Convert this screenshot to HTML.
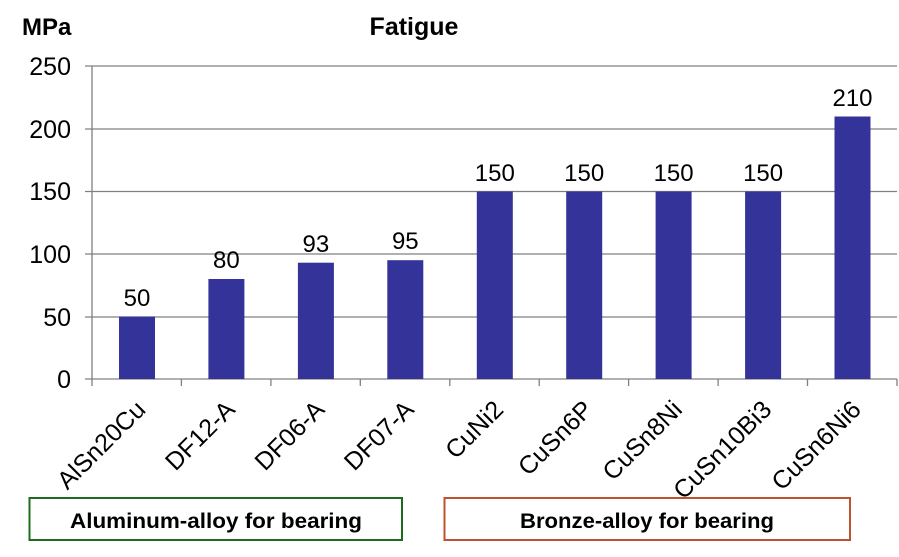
<!DOCTYPE html>
<html><head><meta charset="utf-8"><style>
html,body{margin:0;padding:0;background:#fff;}
svg{display:block;}
</style></head><body>
<svg width="899" height="557" xmlns="http://www.w3.org/2000/svg" font-family="Liberation Sans, Arial, sans-serif">
<rect width="899" height="557" fill="#fff"/>
<text x="22" y="35" font-size="24" font-weight="bold">MPa</text>
<text x="414" y="35" font-size="25" font-weight="bold" text-anchor="middle">Fatigue</text>
<g stroke="#808080" stroke-width="1.3">
<line x1="85" y1="66" x2="897" y2="66"/>
<line x1="85" y1="129" x2="897" y2="129"/>
<line x1="85" y1="191.5" x2="897" y2="191.5"/>
<line x1="85" y1="254" x2="897" y2="254"/>
<line x1="85" y1="317" x2="897" y2="317"/>
<line x1="85" y1="379" x2="897" y2="379"/>
<line x1="92" y1="66" x2="92" y2="386"/>
<line x1="181.4" y1="379" x2="181.4" y2="386"/>
<line x1="270.9" y1="379" x2="270.9" y2="386"/>
<line x1="360.3" y1="379" x2="360.3" y2="386"/>
<line x1="449.8" y1="379" x2="449.8" y2="386"/>
<line x1="539.2" y1="379" x2="539.2" y2="386"/>
<line x1="628.6" y1="379" x2="628.6" y2="386"/>
<line x1="718.1" y1="379" x2="718.1" y2="386"/>
<line x1="807.5" y1="379" x2="807.5" y2="386"/>
<line x1="897" y1="379" x2="897" y2="386"/>
</g>
<g font-size="25" text-anchor="end">
<text x="71" y="75">250</text>
<text x="71" y="138">200</text>
<text x="71" y="200">150</text>
<text x="71" y="263">100</text>
<text x="71" y="326">50</text>
<text x="71" y="388">0</text>
</g>
<g fill="#333399">
<rect x="119" y="316.6" width="36" height="62.4"/>
<rect x="208.4" y="279" width="36" height="100"/>
<rect x="297.9" y="262.7" width="36" height="116.3"/>
<rect x="387.3" y="260.2" width="36" height="118.8"/>
<rect x="476.8" y="191.5" width="36" height="187.5"/>
<rect x="566.2" y="191.5" width="36" height="187.5"/>
<rect x="655.6" y="191.5" width="36" height="187.5"/>
<rect x="745.1" y="191.5" width="36" height="187.5"/>
<rect x="834.5" y="116.5" width="36" height="262.5"/>
</g>
<g font-size="24" text-anchor="middle">
<text x="137" y="306">50</text>
<text x="226.4" y="268">80</text>
<text x="315.9" y="252">93</text>
<text x="405.3" y="249">95</text>
<text x="494.8" y="181">150</text>
<text x="584.2" y="181">150</text>
<text x="673.6" y="181">150</text>
<text x="763.1" y="181">150</text>
<text x="852.5" y="106">210</text>
</g>
<g font-size="25" text-anchor="end">
<text transform="translate(147,411) rotate(-45)">AlSn20Cu</text>
<text transform="translate(236.4,411) rotate(-45)">DF12-A</text>
<text transform="translate(325.9,411) rotate(-45)">DF06-A</text>
<text transform="translate(415.3,411) rotate(-45)">DF07-A</text>
<text transform="translate(504.8,411) rotate(-45)">CuNi2</text>
<text transform="translate(594.2,411) rotate(-45)">CuSn6P</text>
<text transform="translate(683.6,411) rotate(-45)">CuSn8Ni</text>
<text transform="translate(773.1,411) rotate(-45)">CuSn10Bi3</text>
<text transform="translate(862.5,411) rotate(-45)">CuSn6Ni6</text>
</g>
<rect x="29.5" y="498" width="372.5" height="42" fill="#fff" stroke="#1e6b1e" stroke-width="2"/>
<text x="70" y="528" font-size="21" font-weight="bold" textLength="292" lengthAdjust="spacingAndGlyphs">Aluminum-alloy for bearing</text>
<rect x="444.5" y="498" width="405.5" height="42" fill="none" stroke="#c0502f" stroke-width="2"/>
<text x="520" y="528" font-size="21" font-weight="bold" textLength="254" lengthAdjust="spacingAndGlyphs">Bronze-alloy for bearing</text>
</svg>
</body></html>
